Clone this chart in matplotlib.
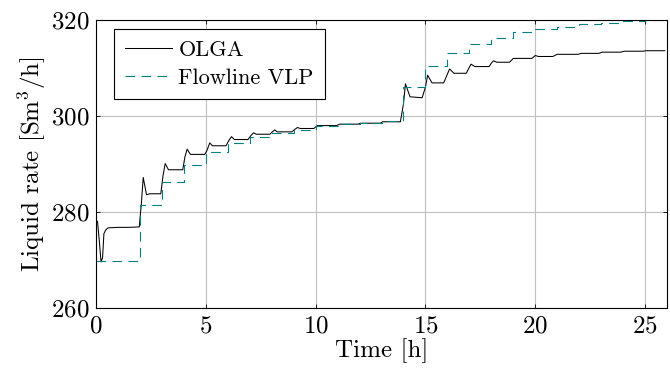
import matplotlib
matplotlib.use("Agg")
import matplotlib.pyplot as plt

plt.rcParams['font.family'] = 'serif'
plt.rcParams['font.serif'] = ['cmr10', 'DejaVu Serif']
plt.rcParams['mathtext.fontset'] = 'cm'
plt.rcParams['axes.formatter.use_mathtext'] = True
plt.rcParams['lines.scale_dashes'] = False

# OLGA simulation
olga_t = [0, 0.07, 0.15, 0.23, 0.3, 0.36, 0.45, 0.55, 1.0, 1.5, 1.97,
          2.07, 2.15, 2.3, 2.45, 2.95,
          3.05, 3.15, 3.3, 3.95,
          4.05, 4.15, 4.3, 4.95,
          5.05, 5.18, 5.3, 5.92,
          6.05, 6.17, 6.3, 6.92,
          7.05, 7.17, 7.3, 7.92,
          8.03, 8.14, 8.25, 8.92,
          9.05, 9.17, 9.3, 9.92,
          10.08, 10.95, 11.1, 11.92, 12.05, 12.95, 13.05, 13.86,
          14.0, 14.09, 14.3, 14.85,
          15.0, 15.1, 15.3, 15.83,
          15.98, 16.1, 16.3, 16.86,
          16.98, 17.08, 17.25, 17.9,
          18.0, 18.1, 18.25, 18.83,
          19.0, 19.85, 20.0, 20.15, 20.8, 21.0, 21.95, 22.1,
          22.9, 23.05, 23.9, 24.05, 24.9, 25.05, 25.9]
olga_q = [278.3, 278.0, 274.0, 269.6, 270.5, 275.5, 276.3, 276.7, 276.8, 276.8, 276.9,
          282.0, 287.2, 283.6, 283.8, 283.8,
          287.5, 290.1, 288.8, 288.8,
          291.5, 293.1, 292.0, 292.0,
          292.8, 294.4, 293.8, 293.8,
          294.9, 295.7, 295.1, 295.1,
          295.9, 296.5, 296.2, 296.2,
          296.7, 297.1, 296.7, 296.7,
          297.2, 297.6, 297.4, 297.4,
          298.0, 298.0, 298.3, 298.3, 298.5, 298.5, 298.8, 298.8,
          302.5, 306.7, 304.0, 303.8,
          306.0, 308.5, 306.9, 306.9,
          308.5, 309.8, 308.9, 308.9,
          310.0, 310.8, 310.3, 310.3,
          311.0, 311.5, 311.2, 311.2,
          312.0, 312.0, 312.6, 312.4, 312.4, 312.85, 312.85, 313.05,
          313.05, 313.3, 313.3, 313.5, 313.5, 313.6, 313.6]

# Flowline VLP (piecewise constant)
vlp_t = [0, 2, 3, 4, 5, 6, 7, 8, 9, 10, 11, 12, 13, 14, 15, 16, 17, 18, 19,
         20, 21, 22, 23, 24, 25, 26]
vlp_q = [269.7, 281.5, 286.2, 289.8, 292.4, 294.3, 295.6, 296.4, 297.0, 297.9,
         298.3, 298.5, 299.0, 306.1, 310.4, 313.2, 314.9, 316.3, 317.4, 318.1,
         318.6, 319.1, 319.4, 319.7, 319.9, 319.9]

fig = plt.figure(figsize=(6.7, 3.7), dpi=100)
ax = fig.add_axes([96 / 670, 62 / 370, 571 / 670, 288 / 370])

ax.plot(olga_t, olga_q, color='black', lw=0.75, label='OLGA')
ax.plot(vlp_t, vlp_q, color='#008080', lw=0.8, drawstyle='steps-post',
        dashes=(7, 4.5), label='Flowline VLP')

ax.set_xlim(0, 26)
ax.set_ylim(260, 320)
ax.set_xticks([0, 5, 10, 15, 20, 25])
ax.set_yticks([260, 280, 300, 320])
ax.grid(True, color='#bfbfbf', lw=0.8)
ax.set_axisbelow(True)
ax.tick_params(direction='in', length=3, width=0.6, labelsize=18, pad=5,
               top=True, right=True)
for s in ax.spines.values():
    s.set_linewidth(0.8)

ax.set_xlabel('Time [h]', fontsize=18, labelpad=1)
ax.set_ylabel('Liquid rate [Sm$^3$/h]', fontsize=18, labelpad=2)

leg = ax.legend(loc='upper left', bbox_to_anchor=(0.0315, 0.969), borderaxespad=0,
                fontsize=16, fancybox=False, edgecolor='black', framealpha=1,
                handlelength=2.1, handletextpad=0.3, labelspacing=0.4,
                borderpad=0.5)
leg.get_frame().set_linewidth(0.8)

fig.savefig('out.png', dpi=100)
